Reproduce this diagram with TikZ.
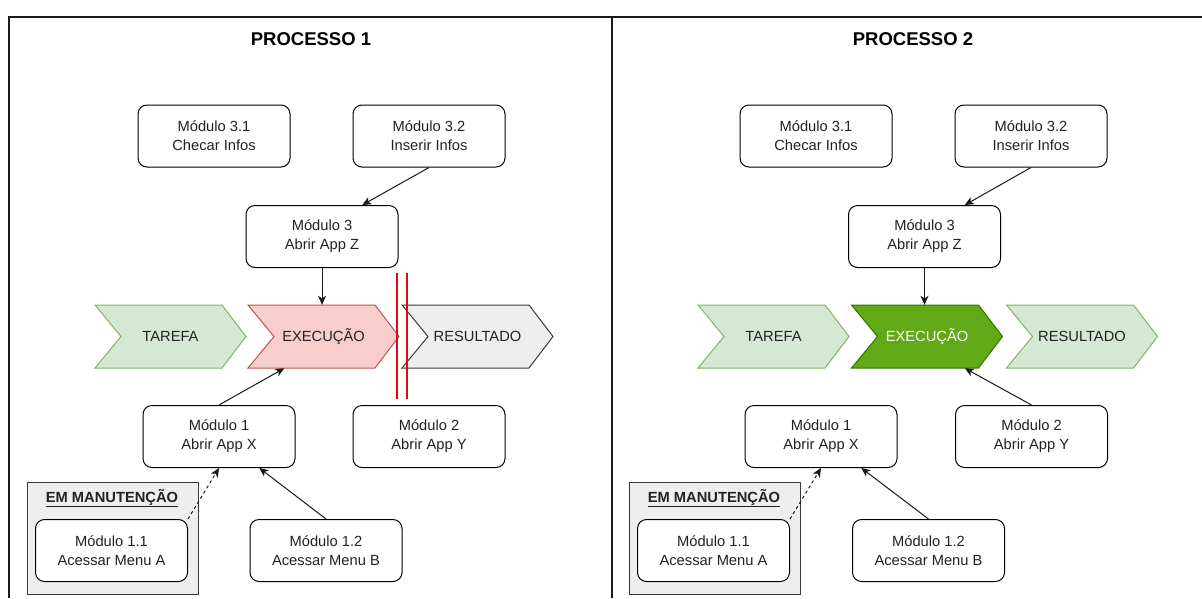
\documentclass[tikz,border=0pt]{standalone}
\usepackage{fontspec}
\setmainfont{Liberation Sans}
\usetikzlibrary{arrows.meta}
\definecolor{gfill}{HTML}{D5E8D4}
\definecolor{gline}{HTML}{82B366}
\definecolor{rfill}{HTML}{F8CECC}
\definecolor{rline}{HTML}{B85450}
\definecolor{grfill}{HTML}{EEEEEE}
\definecolor{grline}{HTML}{36393D}
\definecolor{dfill}{HTML}{60A917}
\definecolor{dline}{HTML}{2D7600}
\definecolor{redbar}{rgb}{0.85,0.05,0.05}
\definecolor{txt}{HTML}{222222}
\newcommand\chevpath[3]{\path[#3] (#1-75.5,#2-31.5) -- (#1+51.5,#2-31.5) -- (#1+75.5,#2) -- (#1+51.5,#2+31.5) -- (#1-75.5,#2+31.5) -- (#1-49.5,#2) -- cycle;}
\tikzset{
  bodyfont/.style={font=\fontsize{14.7}{19}\selectfont},
  modbox/.style={draw=black, fill=white, rounded corners=9pt, minimum width=152pt, minimum height=62pt,
    inner sep=0pt, align=center, bodyfont, text=txt, line width=1pt},
  chevlabel/.style={minimum width=151pt, minimum height=63pt, inner sep=0pt, bodyfont, text=txt},
  chevgreen/.style={fill=gfill, draw=gline, line width=1pt, line join=miter},
  chevred/.style={fill=rfill, draw=rline, line width=1pt},
  chevgray/.style={fill=grfill, draw=grline, line width=1pt},
  chevdark/.style={fill=dfill, draw=dline, line width=1pt},
  maintbox/.style={draw=grline, fill=grfill, line width=1pt, minimum width=171pt, minimum height=112pt, inner sep=0pt},
  mainttitle/.style={font=\fontsize{14.7}{19}\selectfont\bfseries, text=txt},
  paneltitle/.style={font=\fontsize{18.5}{22}\selectfont\bfseries, text=black},
  conn/.style={draw=black!90, line width=1pt, -{Stealth[length=9pt,width=8pt,inset=2.5pt]}},
  dconn/.style={conn, dash pattern=on 3pt off 3pt},
  frame/.style={draw=black!90, line width=1.4pt},
  barline/.style={color=redbar, line width=1.1pt}
}
\begin{document}
\begin{tikzpicture}[x=1pt,y=-1pt]
\useasboundingbox (0,0) rectangle (1202,598);
% frame
\draw[frame] (9,598) -- (9,17) -- (1202,17);
\draw[frame] (612,17) -- (612,598);
% titles
\node[paneltitle] (p1) at (311,39) {PROCESSO 1};
\node[paneltitle] (p2) at (913,39) {PROCESSO 2};

% ===== Panel 1 =====
\node[modbox] (a31) at (214,136) {Módulo 3.1\\Checar Infos};
\node[modbox] (a32) at (429,136) {Módulo 3.2\\Inserir Infos};
\node[modbox] (a3) at (322,236.5) {Módulo 3\\Abrir App Z};
\chevpath{170.5}{336.5}{chevgreen}
\chevpath{323.5}{336.5}{chevred}
\chevpath{477.5}{336.5}{chevgray}
\node[chevlabel] (at) at (170.5,336.5) {TAREFA};
\node[chevlabel] (ae) at (323.5,336.5) {EXECUÇÃO};
\node[chevlabel] (ar) at (477.5,336.5) {RESULTADO};
\coordinate (bar1t) at (397,273);
\coordinate (bar1b) at (397,399);
\coordinate (bar2t) at (407,273);
\coordinate (bar2b) at (407,399);
\draw[barline] (bar1t) -- (bar1b);
\draw[barline] (bar2t) -- (bar2b);
\node[modbox] (a1) at (219,436.5) {Módulo 1\\Abrir App X};
\node[modbox] (a2) at (429,436.5) {Módulo 2\\Abrir App Y};
\node[maintbox] (abox) at (112.5,538) {};
\node[mainttitle] (amt) at (112,498) {\underline{EM MANUTENÇÃO}};
\node[modbox] (a11) at (111.5,550.5) {Módulo 1.1\\Acessar Menu A};
\node[modbox] (a12) at (326,550.5) {Módulo 1.2\\Acessar Menu B};
\draw[conn] (a32.south) -- (a3.38);
\draw[conn] (a3.south) -- (a3.south |- ae.north);
\draw[conn] (a1.north) -- (ae.219);
\draw[dconn] (a11.north east) -- (a1.south);
\draw[conn] (a12.north) -- (a1.322);

% ===== Panel 2 =====
\node[modbox] (b31) at (816,136) {Módulo 3.1\\Checar Infos};
\node[modbox] (b32) at (1031,136) {Módulo 3.2\\Inserir Infos};
\node[modbox] (b3) at (924.5,236.5) {Módulo 3\\Abrir App Z};
\chevpath{773.5}{336.5}{chevgreen}
\chevpath{927}{336.5}{chevdark}
\chevpath{1082}{336.5}{chevgreen}
\node[chevlabel] (bt) at (773.5,336.5) {TAREFA};
\node[chevlabel, text=white] (be) at (927,336.5) {EXECUÇÃO};
\node[chevlabel] (br) at (1082,336.5) {RESULTADO};
\node[modbox] (b1) at (821,436.5) {Módulo 1\\Abrir App X};
\node[modbox] (b2) at (1031.5,436.5) {Módulo 2\\Abrir App Y};
\node[maintbox] (bbox) at (714.5,538) {};
\node[mainttitle] (bmt) at (714,498) {\underline{EM MANUTENÇÃO}};
\node[modbox] (b11) at (713.5,550.5) {Módulo 1.1\\Acessar Menu A};
\node[modbox] (b12) at (928.5,550.5) {Módulo 1.2\\Acessar Menu B};
\draw[conn] (b32.south) -- (b3.38);
\draw[conn] (b3.south) -- (b3.south |- be.north);
\draw[conn] (b2.north) -- (be.320);
\draw[dconn] (b11.north east) -- (b1.south);
\draw[conn] (b12.north) -- (b1.322);
\end{tikzpicture}
\end{document}
